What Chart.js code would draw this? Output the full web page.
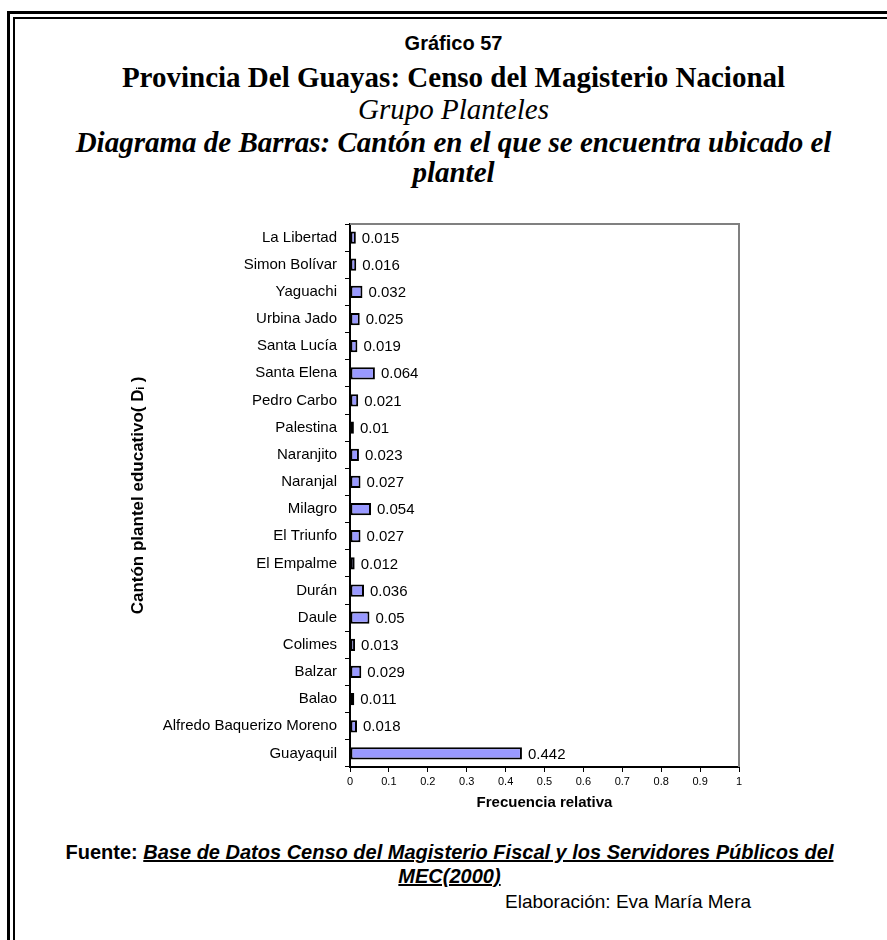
<!DOCTYPE html>
<html>
<head>
<meta charset="utf-8">
<script src="https://cdn.jsdelivr.net/npm/chart.js@4.4.1/dist/chart.umd.min.js"></script>
<style>
  body { margin: 0; background: #fff; width: 887px; height: 940px; position: relative; overflow: hidden; }
  .line { position: absolute; background: #000; }
  .t { position: absolute; left: 10px; width: 887px; text-align: center; color: #000; white-space: nowrap; }
  .serif { font-family: "Liberation Serif", "Times New Roman", serif; font-size: 29px; font-weight: bold; }
  .sans { font-family: "Liberation Sans", Arial, sans-serif; }
  #grafico { position: absolute; left: 100px; top: 200px; }
</style>
</head>
<body>
<!-- marco doble -->
<div class="line" style="left:7px; top:11px; width:880px; height:3px;"></div>
<div class="line" style="left:7px; top:11px; width:3px; height:929px;"></div>
<div class="line" style="left:13px; top:17px; width:874px; height:2px;"></div>
<div class="line" style="left:13px; top:17px; width:2px; height:923px;"></div>

<div class="t sans" style="top:32px; font-size:20px; font-weight:bold;">Gráfico 57</div>
<div class="t serif" style="top:61px;">Provincia Del Guayas: Censo del Magisterio Nacional</div>
<div class="t serif" style="top:93px; font-weight:normal; font-style:italic;">Grupo Planteles</div>
<div class="t serif" style="top:126px; font-style:italic;">Diagrama de Barras: Cantón en el que se encuentra ubicado el</div>
<div class="t serif" style="top:156px; font-style:italic;">plantel</div>

<canvas id="grafico" width="680" height="620"></canvas>

<div class="t sans" style="left:6px; top:841px; font-size:20px; font-weight:bold;">Fuente: <i><u>Base de Datos Censo del Magisterio Fiscal y los Servidores Públicos del</u></i></div>
<div class="t sans" style="left:6px; top:865px; font-size:20px; font-weight:bold;"><i><u>MEC(2000)</u></i></div>
<div class="sans" style="position:absolute; left:505px; top:891px; font-size:19px;">Elaboración: Eva María Mera</div>

<script>
const cantones = [
  "La Libertad", "Simon Bolívar", "Yaguachi", "Urbina Jado", "Santa Lucía",
  "Santa Elena", "Pedro Carbo", "Palestina", "Naranjito", "Naranjal",
  "Milagro", "El Triunfo", "El Empalme", "Durán", "Daule",
  "Colimes", "Balzar", "Balao", "Alfredo Baquerizo Moreno", "Guayaquil"
];
const frecuencias = [
  0.015, 0.016, 0.032, 0.025, 0.019,
  0.064, 0.021, 0.01, 0.023, 0.027,
  0.054, 0.027, 0.012, 0.036, 0.05,
  0.013, 0.029, 0.011, 0.018, 0.442
];
const xTickLabels = ["0", "0.1", "0.2", "0.3", "0.4", "0.5", "0.6", "0.7", "0.8", "0.9", "1"];

// etiquetas de valor al final de cada barra
const etiquetas = {
  id: "etiquetas",
  afterDatasetsDraw(chart) {
    const ctx = chart.ctx;
    const meta = chart.getDatasetMeta(0);
    ctx.save();
    ctx.font = "15px 'Liberation Sans', Arial, sans-serif";
    ctx.fillStyle = "#000";
    ctx.textBaseline = "middle";
    ctx.textAlign = "left";
    meta.data.forEach((bar, i) => {
      ctx.fillText(String(frecuencias[i]), bar.x + 6, bar.y + 1);
    });
    ctx.restore();
  }
};

// borde gris arriba y a la derecha del area de trazado
const marco = {
  id: "marco",
  afterDraw(chart) {
    const a = chart.chartArea;
    const ctx = chart.ctx;
    ctx.save();
    ctx.strokeStyle = "#808080";
    ctx.lineWidth = 2;
    ctx.beginPath();
    ctx.moveTo(a.left, a.top);
    ctx.lineTo(a.right, a.top);
    ctx.lineTo(a.right, a.bottom);
    ctx.stroke();
    ctx.restore();
  }
};

const ctxGrafico = document.querySelector("#grafico").getContext("2d");

const grafico = new Chart(ctxGrafico, {
  type: "bar",
  data: {
    labels: cantones,
    datasets: [{
      data: frecuencias,
      backgroundColor: "#9999FF",
      borderColor: "#000",
      borderWidth: 2,
      borderSkipped: false,
      categoryPercentage: 1,
      barPercentage: 0.45
    }]
  },
  options: {
    indexAxis: "y",
    responsive: false,
    animation: false,
    layout: { padding: { top: 24, right: 41, left: 0, bottom: 0 } },
    plugins: {
      legend: { display: false },
      tooltip: { enabled: false }
    },
    scales: {
      x: {
        min: 0,
        max: 1,
        afterFit(scale) { scale.height = 53; },
        ticks: {
          stepSize: 0.1,
          color: "#000",
          padding: 3,
          maxRotation: 0,
          font: { family: "'Liberation Sans', Arial, sans-serif", size: 11 },
          callback: (v, i) => xTickLabels[i]
        },
        grid: { drawOnChartArea: false, tickLength: 5, color: "#000" },
        border: { color: "#000", width: 2 },
        title: {
          display: true,
          text: "Frecuencia relativa",
          color: "#000",
          padding: { bottom: 8 },
          font: { family: "'Liberation Sans', Arial, sans-serif", size: 15, weight: "bold" }
        }
      },
      y: {
        afterFit(scale) { scale.width = 250; },
        ticks: {
          color: "#000",
          padding: 8,
          font: { family: "'Liberation Sans', Arial, sans-serif", size: 15 }
        },
        grid: { drawOnChartArea: false, tickLength: 5, color: "#000", offset: true },
        border: { color: "#000", width: 2 },
        title: {
          display: true,
          text: "Cantón plantel educativo( Dᵢ )",
          color: "#000",
          padding: { top: 28 },
          font: { family: "'Liberation Sans', Arial, sans-serif", size: 17, weight: "bold" }
        }
      }
    }
  },
  plugins: [etiquetas, marco]
});
</script>
</body>
</html>
